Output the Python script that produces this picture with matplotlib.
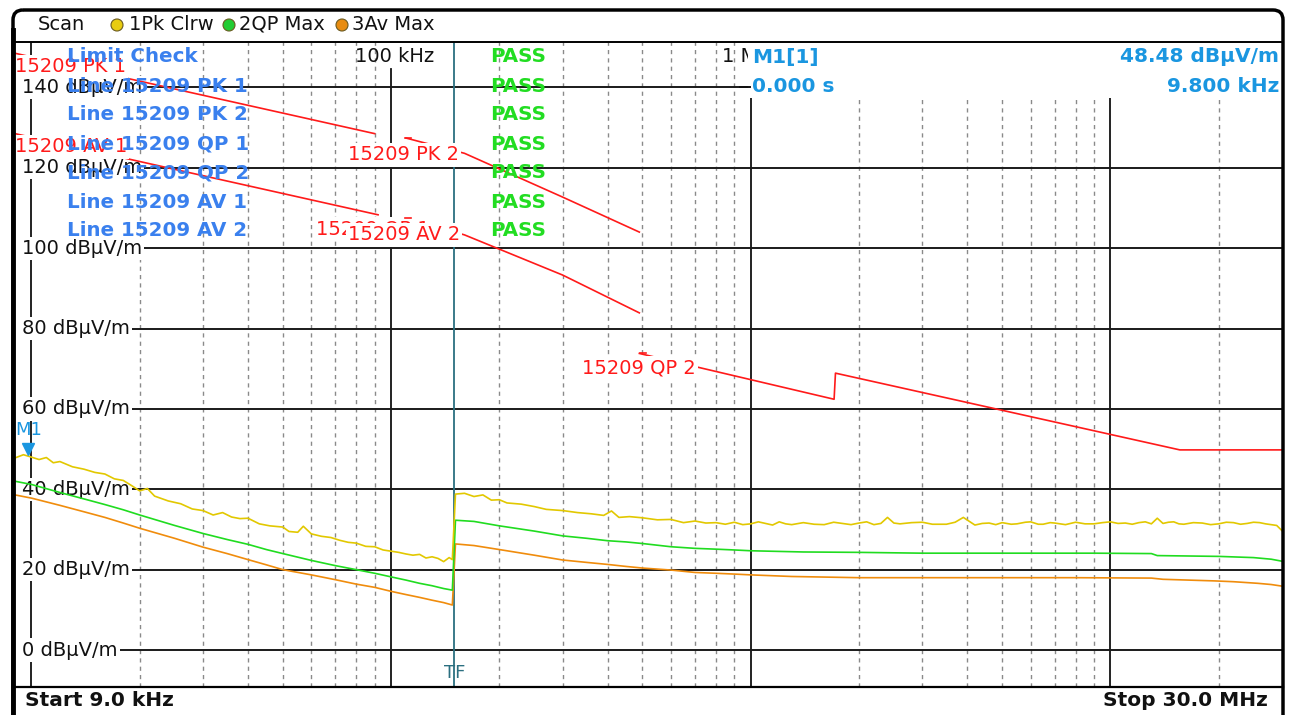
import matplotlib
matplotlib.use("Agg")
import numpy as np
import matplotlib.pyplot as plt
import matplotlib.transforms as mtransforms
from matplotlib.patches import FancyBboxPatch, Rectangle, Circle
from matplotlib.lines import Line2D

W, H = 1293, 715
plt.rcParams['font.family'] = ['DejaVu Sans']
plt.rcParams['lines.scale_dashes'] = False

# ---------------- data ----------------
f_start_khz = 9.0
f_stop_khz = 30000.0
tf_khz = 150.0
ytick_vals = [0, 20, 40, 60, 80, 100, 120, 140]
ytick_labels = [f"{v} dBµV/m" for v in ytick_vals]
decade_khz = [10, 100, 1000, 10000]
minor_khz = [m * d for d in [10, 100, 1000, 10000] for m in range(2, 10) if m * d < f_stop_khz]

# Trace 1: Pk Clrw (yellow)
pk_f1 = [9, 9.5, 10, 10.5, 11, 11.5, 12, 13, 14, 15, 16, 17, 18, 19, 20, 21, 22, 24, 26, 28, 30,
         32, 34, 36, 38, 40, 43, 46, 50, 52, 55, 57, 60, 64, 68, 72, 76, 80, 85, 90, 95, 100,
         105, 110, 115, 120, 125, 130, 135, 140, 145, 148]
pk_v1 = [47.8, 48.6, 48.0, 47.4, 47.9, 46.6, 46.9, 45.6, 45.0, 44.2, 43.8, 42.6, 42.2, 40.9, 39.6,
         40.2, 38.3, 37.1, 36.4, 35.1, 34.7, 33.6, 34.2, 33.1, 32.7, 32.8, 31.4, 30.9, 30.6, 29.5,
         29.3, 30.8, 28.9, 28.3, 28.0, 27.3, 26.8, 26.6, 25.8, 25.7, 24.9, 24.6, 24.3, 23.9, 23.6,
         23.8, 22.9, 23.2, 22.8, 22.0, 23.0, 22.5]
pk_f2 = [151, 160, 170, 180, 190, 200, 210, 230, 250, 270, 300, 330, 360, 390, 410, 430, 460, 500,
         550, 600, 650, 700, 750, 800, 850, 900, 950, 1000, 1050, 1100, 1150, 1200, 1250, 1300,
         1400, 1500, 1600, 1700, 1800, 1900, 2000, 2100, 2200, 2300, 2400, 2500, 2600, 2800,
         3000, 3200, 3500, 3700, 3900, 4200, 4400, 4600, 4800, 5000, 5300, 5500, 5800, 6000, 6300,
         6500, 6800, 7000, 7500, 8000, 8500, 9000, 9500, 10000, 10500, 11000, 11500, 12000, 12500,
         13000, 13500, 14000, 14500, 15000, 15500, 16000, 17000, 18000, 19000, 20000, 21000,
         22000, 23000, 24000, 25000, 26000, 27000, 28000, 29000, 30000]
pk_v2 = [38.8, 39.0, 38.2, 38.6, 37.3, 37.4, 36.6, 36.3, 35.7, 35.0, 34.7, 34.2, 33.9, 33.5, 34.6,
         33.0, 33.2, 32.9, 32.4, 32.5, 31.7, 32.1, 31.6, 31.7, 31.3, 31.8, 31.2, 31.4, 31.9, 31.5,
         31.1, 31.9, 31.4, 31.2, 31.7, 31.3, 31.2, 31.8, 31.5, 31.2, 31.6, 31.9, 31.2, 31.5, 33.0,
         31.6, 31.4, 31.7, 31.8, 31.3, 31.3, 31.8, 33.0, 31.1, 31.5, 31.6, 31.2, 31.7, 31.3, 31.4,
         31.8, 31.9, 31.3, 31.3, 31.7, 31.6, 31.2, 31.8, 31.4, 31.4, 31.7, 31.9, 31.5, 31.6, 31.3,
         31.7, 31.9, 31.4, 32.8, 31.5, 31.8, 31.9, 31.4, 31.3, 31.7, 31.6, 31.2, 31.4, 31.8, 31.7,
         31.3, 31.5, 31.8, 31.7, 31.4, 31.2, 31.0, 29.7]

# Trace 2: QP Max (green) and Trace 3: Av Max (orange)
lo_f = [9, 10, 12, 14, 16, 18, 20, 25, 30, 35, 40, 45, 50, 60, 70, 80, 90, 100, 110, 120, 130, 140, 148]
qp_v1 = [42.0, 41.2, 39.2, 37.6, 36.2, 34.9, 33.6, 31.0, 29.0, 27.5, 26.3, 25.0, 24.0, 22.3, 21.0,
         20.0, 19.1, 18.2, 17.4, 16.6, 16.0, 15.3, 14.9]
av_v1 = [38.6, 37.8, 36.0, 34.4, 33.0, 31.6, 30.3, 27.8, 25.6, 24.0, 22.5, 21.2, 20.0, 18.7, 17.5,
         16.4, 15.6, 14.6, 13.8, 13.1, 12.4, 11.8, 11.2]
qp_f2 = [151, 170, 200, 250, 300, 350, 400, 450, 500, 600, 700, 800, 900, 1000, 1400, 2000, 3000,
         5000, 7000, 9000, 13000, 13500, 20000, 25000, 28000, 30000]
qp_v2 = [32.3, 32.0, 30.9, 29.6, 28.4, 27.8, 27.2, 26.9, 26.5, 25.7, 25.3, 25.1, 24.9, 24.7, 24.4,
         24.3, 24.1, 24.1, 24.1, 24.1, 24.0, 23.5, 23.3, 23.0, 22.6, 22.1]
av_f2 = [151, 170, 200, 250, 300, 350, 400, 450, 500, 600, 700, 800, 900, 1000, 1300, 2000, 3000,
         5000, 8000, 13000, 14000, 19500, 22000, 25700, 28000, 30000]
av_v2 = [26.4, 26.0, 25.0, 23.6, 22.4, 21.8, 21.3, 20.8, 20.4, 19.9, 19.3, 19.1, 18.9, 18.7, 18.3,
         18.0, 18.0, 18.0, 18.0, 17.9, 17.6, 17.2, 17.0, 16.6, 16.3, 15.9]

# Limit lines (kHz, dBµV/m)
lim_pk1_f, lim_pk1_v = [9, 90], [148.5, 128.5]
lim_av1_f, lim_av1_v = [9, 92], [128.5, 108.3]
lim_pk2_f, lim_pk2_v = [110, 160, 300, 490], [127.4, 123.6, 112.7, 104.0]
lim_av2_f, lim_av2_v = [110, 160, 300, 490], [107.5, 103.3, 93.3, 83.9]
lim_qp2_f = [490, 1705, 1720, 15600, 30000]
lim_qp2_v = [73.8, 62.4, 68.9, 49.8, 49.8]

marker_f_khz, marker_v = 9.8, 48.48

limit_rows = ["Limit Check", "Line 15209 PK 1", "Line 15209 PK 2", "Line 15209 QP 1",
              "Line 15209 QP 2", "Line 15209 AV 1", "Line 15209 AV 2"]
limit_results = ["PASS"] * 7

# ---------------- figure ----------------
fig = plt.figure(figsize=(W / 100, H / 100), dpi=100)
fig.patch.set_facecolor('white')
ax = fig.add_axes([15 / W, 1 - 687 / H, (1282 - 15) / W, (687 - 42) / H])
ax.set_xscale('log')
ax.set_xlim(f_start_khz * 1e3, f_stop_khz * 1e3)
ax.set_ylim(-9.2, 151.3)
ax.axis('off')

P = mtransforms.Affine2D().scale(1 / W, -1 / H).translate(0, 1) + fig.transFigure
PX_DY = mtransforms.blended_transform_factory(P, ax.transData)
DX_PY = mtransforms.blended_transform_factory(ax.transData, P)

RED = '#ff1a1a'
BLUE = '#3a80ee'
MBLUE = '#1a96e0'
GREEN_T = '#22dd22'
TEAL = '#2b6f80'

# grid
for f in minor_khz:
    ax.axvline(f * 1e3, color='#8a8a8a', lw=1.0, ls=(0, (3, 3)), zorder=1)
dec_top = {10: 1.0, 100: (687 - 69) / 645, 1000: (687 - 98) / 645, 10000: (687 - 98) / 645}
for f in decade_khz:
    ax.axvline(f * 1e3, ymax=dec_top[f], color='#111111', lw=1.3, zorder=1.5)

ylabel_texts = []
for v, lab in zip(ytick_vals, ytick_labels):
    t = ax.text(22, v, lab, transform=PX_DY, ha='left', va='center', fontsize=14, color='#111111',
                zorder=3, bbox=dict(fc='white', ec='none', pad=1.5))
    ylabel_texts.append(t)

renderer = fig.canvas.get_renderer()
for v, t in zip(ytick_vals, ylabel_texts):
    bb = t.get_window_extent(renderer=renderer)
    ax.plot([bb.x1 + 1, 1282], [v, v], transform=PX_DY, color='#1a1a1a', lw=1.4, zorder=1.5,
            clip_on=False)

ax.axvline(tf_khz * 1e3, color=TEAL, lw=1.3, zorder=2)
ax.text(tf_khz * 1e3, 673, "TF", transform=DX_PY, ha='center', va='center', fontsize=13,
        color=TEAL, zorder=3)

ax.text(355, 57, "100 kHz", transform=P, ha='left', va='center', fontsize=14, color='#111111', zorder=3)
ax.text(722, 57, "1 MHz", transform=P, ha='left', va='center', fontsize=14, color='#111111', zorder=3)

# limit lines
for fl, vl in [(lim_pk1_f, lim_pk1_v), (lim_av1_f, lim_av1_v), (lim_pk2_f, lim_pk2_v),
               (lim_av2_f, lim_av2_v), (lim_qp2_f, lim_qp2_v)]:
    ax.plot(np.array(fl) * 1e3, vl, color=RED, lw=1.2, zorder=4)

red_labels = [("15209 PK 1", 15, 67, 5), ("15209 AV 1", 15, 147, 5), ("15209 QP 1", 316, 229, 5),
              ("15209 PK 2", 348, 155, 5.1), ("15209 AV 2", 348, 235, 5.1), ("15209 QP 2", 582, 368, 5)]
for s, x, y, z in red_labels:
    ax.text(x, y, s, transform=P, ha='left', va='center', fontsize=14, color=RED, zorder=z,
            bbox=dict(fc='white', ec='none', pad=1.5))
for x, y in [(408, 138), (408, 218), (643, 353)]:
    ax.add_line(Line2D([x - 3, x + 3], [y, y], transform=P, color=RED, lw=1.2, zorder=5.2,
                       clip_on=False))

# traces
ax.plot(np.array(lo_f + av_f2) * 1e3, av_v1 + av_v2, color='#f08c0c', lw=1.2, zorder=6)
ax.plot(np.array(lo_f + qp_f2) * 1e3, qp_v1 + qp_v2, color='#20dc20', lw=1.2, zorder=6.1)
ax.plot(np.array(pk_f1 + pk_f2) * 1e3, pk_v1 + pk_v2, color='#e2c800', lw=1.2, zorder=6.2)

# marker
off = mtransforms.offset_copy(ax.transData, fig=fig, x=0, y=6, units='dots')
ax.plot([marker_f_khz * 1e3], [marker_v], marker='v', ms=9, color=MBLUE, transform=off,
        zorder=7, clip_on=False)
ax.text(15, 430, "M1", transform=P, ha='left', va='center', fontsize=13, color=MBLUE, zorder=7)

# limit check texts
for i, (s, r) in enumerate(zip(limit_rows, limit_results)):
    y = 57 + 29 * i
    ax.text(67, y, s, transform=P, ha='left', va='center', fontsize=14.3, fontweight='bold',
            color=BLUE, zorder=7)
    ax.text(490, y, r, transform=P, ha='left', va='center', fontsize=14.3, fontweight='bold',
            color=GREEN_T, zorder=7)

# marker info box
ax.add_patch(Rectangle((748, 43), 534, 55, transform=P, fc='white', ec='none', zorder=8,
                       clip_on=False))
ax.text(752, 57, "M1[1]", transform=P, ha='left', va='center', fontsize=14.5, fontweight='bold',
        color=MBLUE, zorder=9)
ax.text(1279, 57, f"{marker_v:.2f} dBµV/m", transform=P, ha='right', va='center', fontsize=14.5,
        fontweight='bold', color=MBLUE, zorder=9)
ax.text(752, 86, "0.000 s", transform=P, ha='left', va='center', fontsize=14.5, fontweight='bold',
        color=MBLUE, zorder=9)
ax.text(1279, 86, f"{marker_f_khz:.3f} kHz", transform=P, ha='right', va='center', fontsize=14.5,
        fontweight='bold', color=MBLUE, zorder=9)
ax.add_line(Line2D([740, 750], [87, 87], transform=P, color='#111111', lw=1.4, zorder=9, clip_on=False))

# frame
ax.add_patch(FancyBboxPatch((13, 10), 1270, 720, boxstyle='round,pad=0,rounding_size=10',
                            transform=P, fill=False, ec='black', lw=2.5, zorder=10, clip_on=False))
ax.add_line(Line2D([13, 13], [30, 715], transform=P, color='black', lw=3.5, zorder=10, clip_on=False))
ax.add_line(Line2D([13, 1283], [42, 42], transform=P, color='black', lw=1.4, zorder=10, clip_on=False))
ax.add_line(Line2D([15, 1283], [687, 687], transform=P, color='black', lw=1.6, zorder=10, clip_on=False))

# header
ax.text(38, 24, "Scan", transform=P, ha='left', va='center', fontsize=14, color='#111111', zorder=10)
for cx, col, lab, tx in [(117, '#e8cc10', "1Pk Clrw", 129), (229, '#22cc33', "2QP Max", 239),
                         (342, '#e88c10', "3Av Max", 352)]:
    ax.add_patch(Circle((cx, 25), 6, transform=P, fc=col, ec='#6a5a20', lw=0.8, zorder=10,
                        clip_on=False))
    ax.text(tx, 24, lab, transform=P, ha='left', va='center', fontsize=14, color='#111111', zorder=10)

# footer
ax.text(25, 701, "Start 9.0 kHz", transform=P, ha='left', va='center', fontsize=14.5,
        fontweight='bold', color='#111111', zorder=10)
ax.text(1268, 701, "Stop 30.0 MHz", transform=P, ha='right', va='center', fontsize=14.5,
        fontweight='bold', color='#111111', zorder=10)

fig.savefig("out.png", dpi=100, facecolor='white')
